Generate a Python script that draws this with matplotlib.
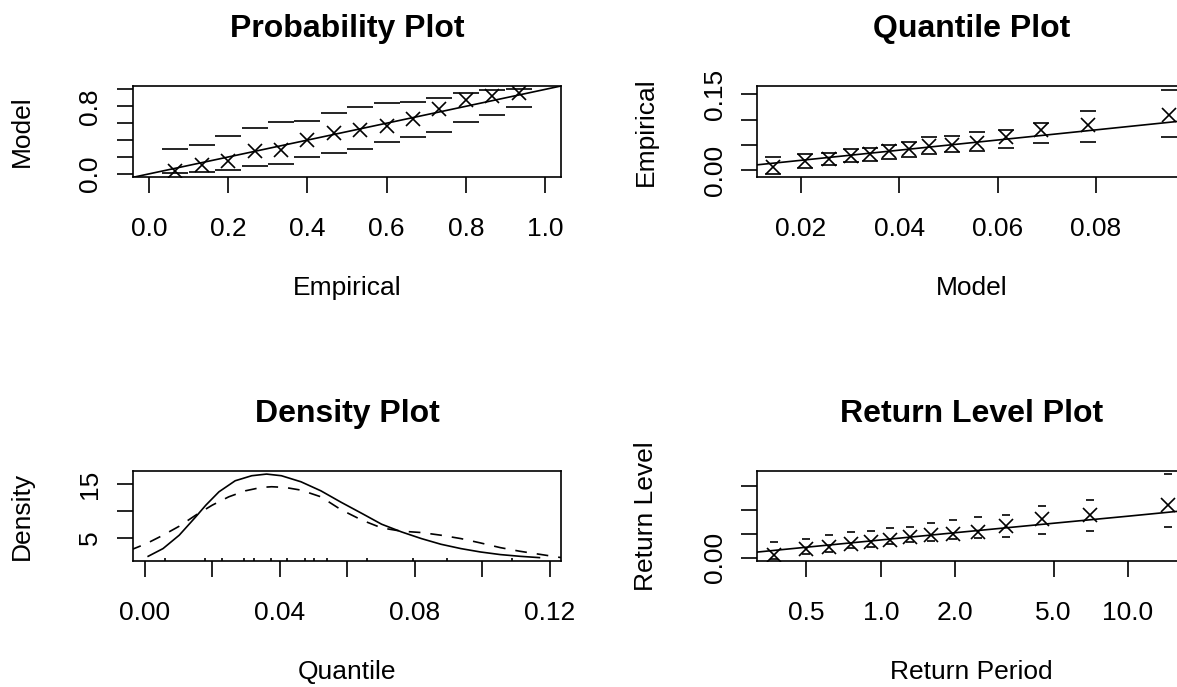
import matplotlib
matplotlib.use("Agg")
import matplotlib.pyplot as plt
from matplotlib.ticker import FixedLocator, FixedFormatter, NullLocator

plt.rcParams["font.family"] = ["Liberation Sans", "DejaVu Sans"]

# ---------------- data ----------------
# Probability plot
pp_empirical = [0.067, 0.133, 0.200, 0.267, 0.333, 0.400, 0.467,
                0.533, 0.600, 0.667, 0.733, 0.800, 0.867, 0.933]
pp_model = [0.039, 0.100, 0.150, 0.270, 0.280, 0.400, 0.486,
            0.525, 0.565, 0.644, 0.770, 0.873, 0.920, 0.952]
pp_upper = [0.300, 0.344, 0.446, 0.546, 0.617, 0.624, 0.724,
            0.790, 0.834, 0.854, 0.900, 0.952, 0.988, 1.000]
pp_lower = [0.012, 0.019, 0.043, 0.090, 0.122, 0.197, 0.244,
            0.300, 0.375, 0.439, 0.498, 0.617, 0.695, 0.790]

# Quantile plot
model_quantile = [0.0142, 0.0208, 0.0256, 0.0301, 0.0341, 0.0380, 0.0420,
                  0.0461, 0.0508, 0.0558, 0.0618, 0.0688, 0.0785, 0.0948]
empirical = [0.0060, 0.0177, 0.0229, 0.0294, 0.0325, 0.0375, 0.0423,
             0.0476, 0.0501, 0.0540, 0.0660, 0.0795, 0.0896, 0.1088]
q_upper = [0.0274, 0.0320, 0.0352, 0.0425, 0.0450, 0.0503, 0.0556,
           0.0655, 0.0686, 0.0753, 0.0798, 0.0930, 0.1178, 0.1585]
q_lower = [-0.0073, 0.0057, 0.0110, 0.0163, 0.0189, 0.0228, 0.0274,
           0.0320, 0.0360, 0.0391, 0.0450, 0.0537, 0.0568, 0.0667]

# Density plot
dens_x = [0.0010, 0.0054, 0.0102, 0.0151, 0.0181, 0.0220, 0.0268, 0.0317,
          0.0361, 0.0405, 0.0463, 0.0522, 0.0582, 0.0644, 0.0702, 0.0761,
          0.0820, 0.0878, 0.0937, 0.0995, 0.1054, 0.1112, 0.1170]
dens_model = [1.50, 2.94, 5.44, 8.87, 11.06, 13.56, 15.62, 16.56,
              16.87, 16.56, 15.43, 13.74, 11.60, 9.50, 7.50, 6.06,
              4.81, 3.75, 2.94, 2.31, 1.82, 1.50, 1.25]
kde_x = [-0.0044, 0.0005, 0.0054, 0.0102, 0.0151, 0.0200, 0.0249, 0.0298,
         0.0346, 0.0376, 0.0415, 0.0463, 0.0522, 0.0582, 0.0644, 0.0702,
         0.0761, 0.0820, 0.0878, 0.0937, 0.0995, 0.1054, 0.1112, 0.1171,
         0.1240]
kde_y = [2.63, 3.88, 5.44, 7.12, 9.19, 11.06, 12.62, 13.74,
         14.38, 14.50, 14.38, 13.87, 12.62, 10.20, 8.25, 6.81,
         6.19, 5.94, 5.44, 4.81, 4.00, 3.12, 2.44, 1.87,
         1.20]

# Return level plot
return_period = [0.37, 0.50, 0.62, 0.76, 0.91, 1.09, 1.31,
                 1.59, 1.96, 2.47, 3.22, 4.48, 6.99, 14.5]
rl_upper = [0.0322, 0.0378, 0.0467, 0.0529, 0.0550, 0.0620, 0.0632,
            0.0723, 0.0777, 0.0847, 0.0895, 0.1080, 0.1190, 0.1742]
rl_lower = [-0.0035, 0.0083, 0.0124, 0.0192, 0.0219, 0.0275, 0.0322,
            0.0343, 0.0378, 0.0399, 0.0426, 0.0502, 0.0550, 0.0640]
rl_curve_period = [0.30, 0.5, 1.0, 2.0, 5.0, 10.0, 17.0]
rl_curve_level = [0.0104, 0.0217, 0.0368, 0.0519, 0.0716, 0.0863, 0.0979]

# ---------------- layout ----------------
W, H = 1177, 687
fig = plt.figure(figsize=(W / 100, H / 100), dpi=100)

BASE = 19
TITLE = 23
LW = 1.2


def make_axes(left, top, right, bottom):
    ax = fig.add_axes([left / W, 1 - bottom / H, (right - left) / W, (bottom - top) / H])
    wpx, hpx = right - left, bottom - top
    for s in ax.spines.values():
        s.set_linewidth(LW)
    ax.tick_params(direction="out", length=11.5, width=LW, labelsize=BASE)
    ax.tick_params(axis="x", pad=17)
    ax.tick_params(axis="y", pad=10.5)
    return ax, wpx, hpx


def decorate(ax, wpx, hpx, title, xlabel, ylabel):
    ax.set_title(title, fontsize=TITLE, fontweight="bold", y=1 + 57 / hpx, va="center", pad=0)
    ax.set_xlabel(xlabel, fontsize=BASE, va="center")
    ax.xaxis.set_label_coords(0.5, -111 / hpx)
    ax.set_ylabel(ylabel, fontsize=BASE, va="center")
    ax.yaxis.set_label_coords(-111 / wpx, 0.5)
    for lab in ax.get_yticklabels():
        lab.set_rotation(90)
        lab.set_va("center")


def yticks(ax, ticks, labels):
    ax.yaxis.set_major_locator(FixedLocator(ticks))
    ax.yaxis.set_major_formatter(FixedFormatter(labels))


def xticks(ax, ticks, labels):
    ax.xaxis.set_major_locator(FixedLocator(ticks))
    ax.xaxis.set_major_formatter(FixedFormatter(labels))
    ax.xaxis.set_minor_locator(NullLocator())


# ---- Probability plot ----
ax1, w1, h1 = make_axes(133, 86, 561, 177.3)
ax1.axline((0, 0), slope=1, color="black", lw=LW)
ax1.plot(pp_empirical, pp_model, "x", color="black", ms=9.5, mew=LW)
ax1.plot(pp_empirical, pp_upper, "_", color="black", ms=18.7, mew=LW)
ax1.plot(pp_empirical, pp_lower, "_", color="black", ms=18.7, mew=LW)
ax1.set_xlim(-0.04, 1.04)
ax1.set_ylim(-0.04, 1.04)
xticks(ax1, [0, 0.2, 0.4, 0.6, 0.8, 1.0], ["0.0", "0.2", "0.4", "0.6", "0.8", "1.0"])
yticks(ax1, [0, 0.2, 0.4, 0.6, 0.8, 1.0], ["0.0", "", "", "", "0.8", ""])
decorate(ax1, w1, h1, "Probability Plot", "Empirical", "Model")

# ---- Quantile plot ----
ax2, w2, h2 = make_axes(757.3, 86, 1185.3, 177.3)
ax2.axline((0, 0), slope=1, color="black", lw=LW)
ax2.plot(model_quantile, empirical, "x", color="black", ms=9.5, mew=LW)
ax2.plot(model_quantile, q_upper, "_", color="black", ms=12, mew=LW)
ax2.plot(model_quantile, q_lower, "_", color="black", ms=12, mew=LW)
ax2.set_xlim(0.0111, 0.0982)
ax2.set_ylim(-0.0135, 0.1665)
xticks(ax2, [0.02, 0.04, 0.06, 0.08], ["0.02", "0.04", "0.06", "0.08"])
yticks(ax2, [0, 0.05, 0.10, 0.15], ["0.00", "", "", "0.15"])
decorate(ax2, w2, h2, "Quantile Plot", "Model", "Empirical")

# ---- Density plot ----
ax3, w3, h3 = make_axes(133, 470.7, 561, 561)
ax3.plot(dens_x, dens_model, color="black", lw=LW, solid_joinstyle="round")
ax3.plot(kde_x, kde_y, color="black", lw=LW, linestyle=(0, (7, 6)))
ax3.vlines(empirical, 0, 0.03, transform=ax3.get_xaxis_transform(), color="black", lw=LW)
ax3.set_xlim(-0.0035, 0.1234)
ax3.set_ylim(0.62, 17.5)
xticks(ax3, [0, 0.02, 0.04, 0.06, 0.08, 0.10, 0.12],
       ["0.00", "", "0.04", "", "0.08", "", "0.12"])
yticks(ax3, [5, 10, 15], ["5", "", "15"])
decorate(ax3, w3, h3, "Density Plot", "Quantile", "Density")

# ---- Return level plot ----
ax4, w4, h4 = make_axes(757.3, 470.7, 1185.3, 561)
ax4.set_xscale("log")
ax4.plot(rl_curve_period, rl_curve_level, color="black", lw=LW)
ax4.plot(return_period, empirical, "x", color="black", ms=9.5, mew=LW)
ax4.plot(return_period, rl_upper, "_", color="black", ms=6, mew=LW)
ax4.plot(return_period, rl_lower, "_", color="black", ms=6, mew=LW)
ax4.set_xlim(0.3166, 17.06)
ax4.set_ylim(-0.007, 0.181)
xticks(ax4, [0.5, 1.0, 2.0, 5.0, 10.0], ["0.5", "1.0", "2.0", "5.0", "10.0"])
yticks(ax4, [0, 0.05, 0.10, 0.15], ["0.00", "", "", ""])
decorate(ax4, w4, h4, "Return Level Plot", "Return Period", "Return Level")

fig.savefig("out.png", dpi=100)
